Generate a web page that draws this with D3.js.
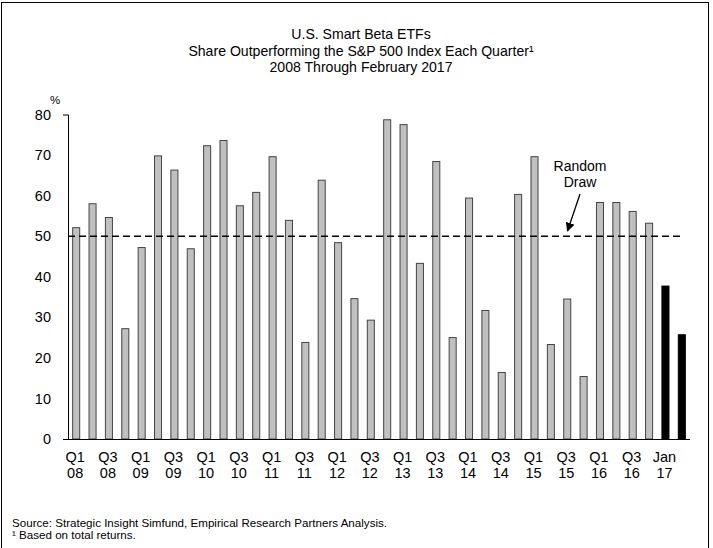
<!DOCTYPE html>
<html><head><meta charset="utf-8">
<script src="https://cdn.jsdelivr.net/npm/d3@7"></script>
<style>body{margin:0;background:#fff}svg{display:block}text{font-family:"Liberation Sans",Arial,sans-serif;fill:#000}</style>
</head><body><svg id="c" width="713" height="548"></svg>
<script>
const categories = ["Q1 08","Q2 08","Q3 08","Q4 08","Q1 09","Q2 09","Q3 09","Q4 09","Q1 10","Q2 10","Q3 10","Q4 10","Q1 11","Q2 11","Q3 11","Q4 11","Q1 12","Q2 12","Q3 12","Q4 12","Q1 13","Q2 13","Q3 13","Q4 13","Q1 14","Q2 14","Q3 14","Q4 14","Q1 15","Q2 15","Q3 15","Q4 15","Q1 16","Q2 16","Q3 16","Q4 16","Jan 17","Feb 17"];
const values = [52.1,58.0,54.6,27.2,47.2,69.8,66.3,46.9,72.3,73.6,57.5,60.8,69.6,53.9,23.8,63.8,48.4,34.6,29.3,78.7,77.5,43.3,68.4,25.0,59.4,31.7,16.4,60.3,69.6,23.3,34.5,15.4,58.3,58.3,56.1,53.2,37.7,25.7];
const monthly = ["Jan 17","Feb 17"];
const yTicks = [0,10,20,30,40,50,60,70,80];
const randomDraw = 50;
const titleLines = ["U.S. Smart Beta ETFs","Share Outperforming the S&P 500 Index Each Quarter\u00b9","2008 Through February 2017"];

const svg = d3.select("#c");
svg.append("rect").attr("x",1.5).attr("y",2.5).attr("width",707).attr("height",560)
  .attr("fill","none").attr("stroke","#000").attr("stroke-width",1);

const x = d3.scaleBand().domain(categories).range([68,690]).paddingInner(0.57).paddingOuter(0.285);
const y = d3.scaleLinear().domain([0,80]).range([439,114.5]);

svg.selectAll("text.title").data(titleLines).join("text")
  .attr("x",361).attr("y",(d,i)=>39+i*16.5).attr("text-anchor","middle").attr("font-size",14.1).text(d=>d);

// bars
svg.append("g").selectAll("rect").data(values).join("rect")
  .attr("x",(d,i)=>x(categories[i])).attr("width",x.bandwidth())
  .attr("y",d=>y(d)).attr("height",d=>y(0)-y(d))
  .attr("fill",(d,i)=>monthly.includes(categories[i])?"#000":"#c0c0c0")
  .attr("stroke",(d,i)=>monthly.includes(categories[i])?"#000":"#444").attr("stroke-width",1);

// dashed line
svg.append("line").attr("x1",68).attr("x2",682).attr("y1",y(randomDraw)).attr("y2",y(randomDraw))
  .attr("stroke","#000").attr("stroke-width",1.6).attr("stroke-dasharray","7,4");

// y axis
const ya = svg.append("g").attr("transform","translate(68,0)")
  .call(d3.axisLeft(y).tickValues(yTicks).tickSizeInner(0).tickSizeOuter(5).tickPadding(17));
ya.select(".domain").attr("stroke","#000");
ya.selectAll("text").attr("font-size",14.5).attr("font-family","Liberation Sans, Arial, sans-serif").attr("fill","#000");
svg.append("text").attr("x",50).attr("y",104).attr("font-size",11.5).text("%");

// x axis
svg.append("line").attr("x1",63).attr("x2",690).attr("y1",439.5).attr("y2",439.5).attr("stroke","#000");
const labelled = categories.filter((d,i)=>i%2===0);
const xl = svg.append("g").selectAll("text").data(labelled).join("text")
  .attr("text-anchor","middle").attr("font-size",14.5);
xl.each(function(d){
  const parts = d.split(" ");
  const cx = x(d)+x.bandwidth()/2 - 1;
  const t = d3.select(this);
  t.append("tspan").attr("x",cx).attr("y",462).text(parts[0]);
  t.append("tspan").attr("x",cx).attr("y",478).text(parts[1]);
});

// annotation
svg.append("text").attr("x",580).attr("y",171).attr("text-anchor","middle").attr("font-size",14).text("Random");
svg.append("text").attr("x",580).attr("y",187).attr("text-anchor","middle").attr("font-size",14).text("Draw");
svg.append("defs").append("marker").attr("id","ah").attr("viewBox","0 0 10 10").attr("refX",9).attr("refY",5)
  .attr("markerWidth",7).attr("markerHeight",7).attr("orient","auto")
  .append("path").attr("d","M0,0L10,5L0,10z").attr("fill","#000");
svg.append("line").attr("x1",580).attr("y1",194).attr("x2",567.5).attr("y2",231)
  .attr("stroke","#000").attr("stroke-width",1.3).attr("marker-end","url(#ah)");

svg.append("text").attr("x",12).attr("y",527).attr("font-size",11.6).text("Source: Strategic Insight Simfund, Empirical Research Partners Analysis.");
svg.append("text").attr("x",12).attr("y",539).attr("font-size",11.6).text("\u00b9 Based on total returns.");
</script></body></html>
